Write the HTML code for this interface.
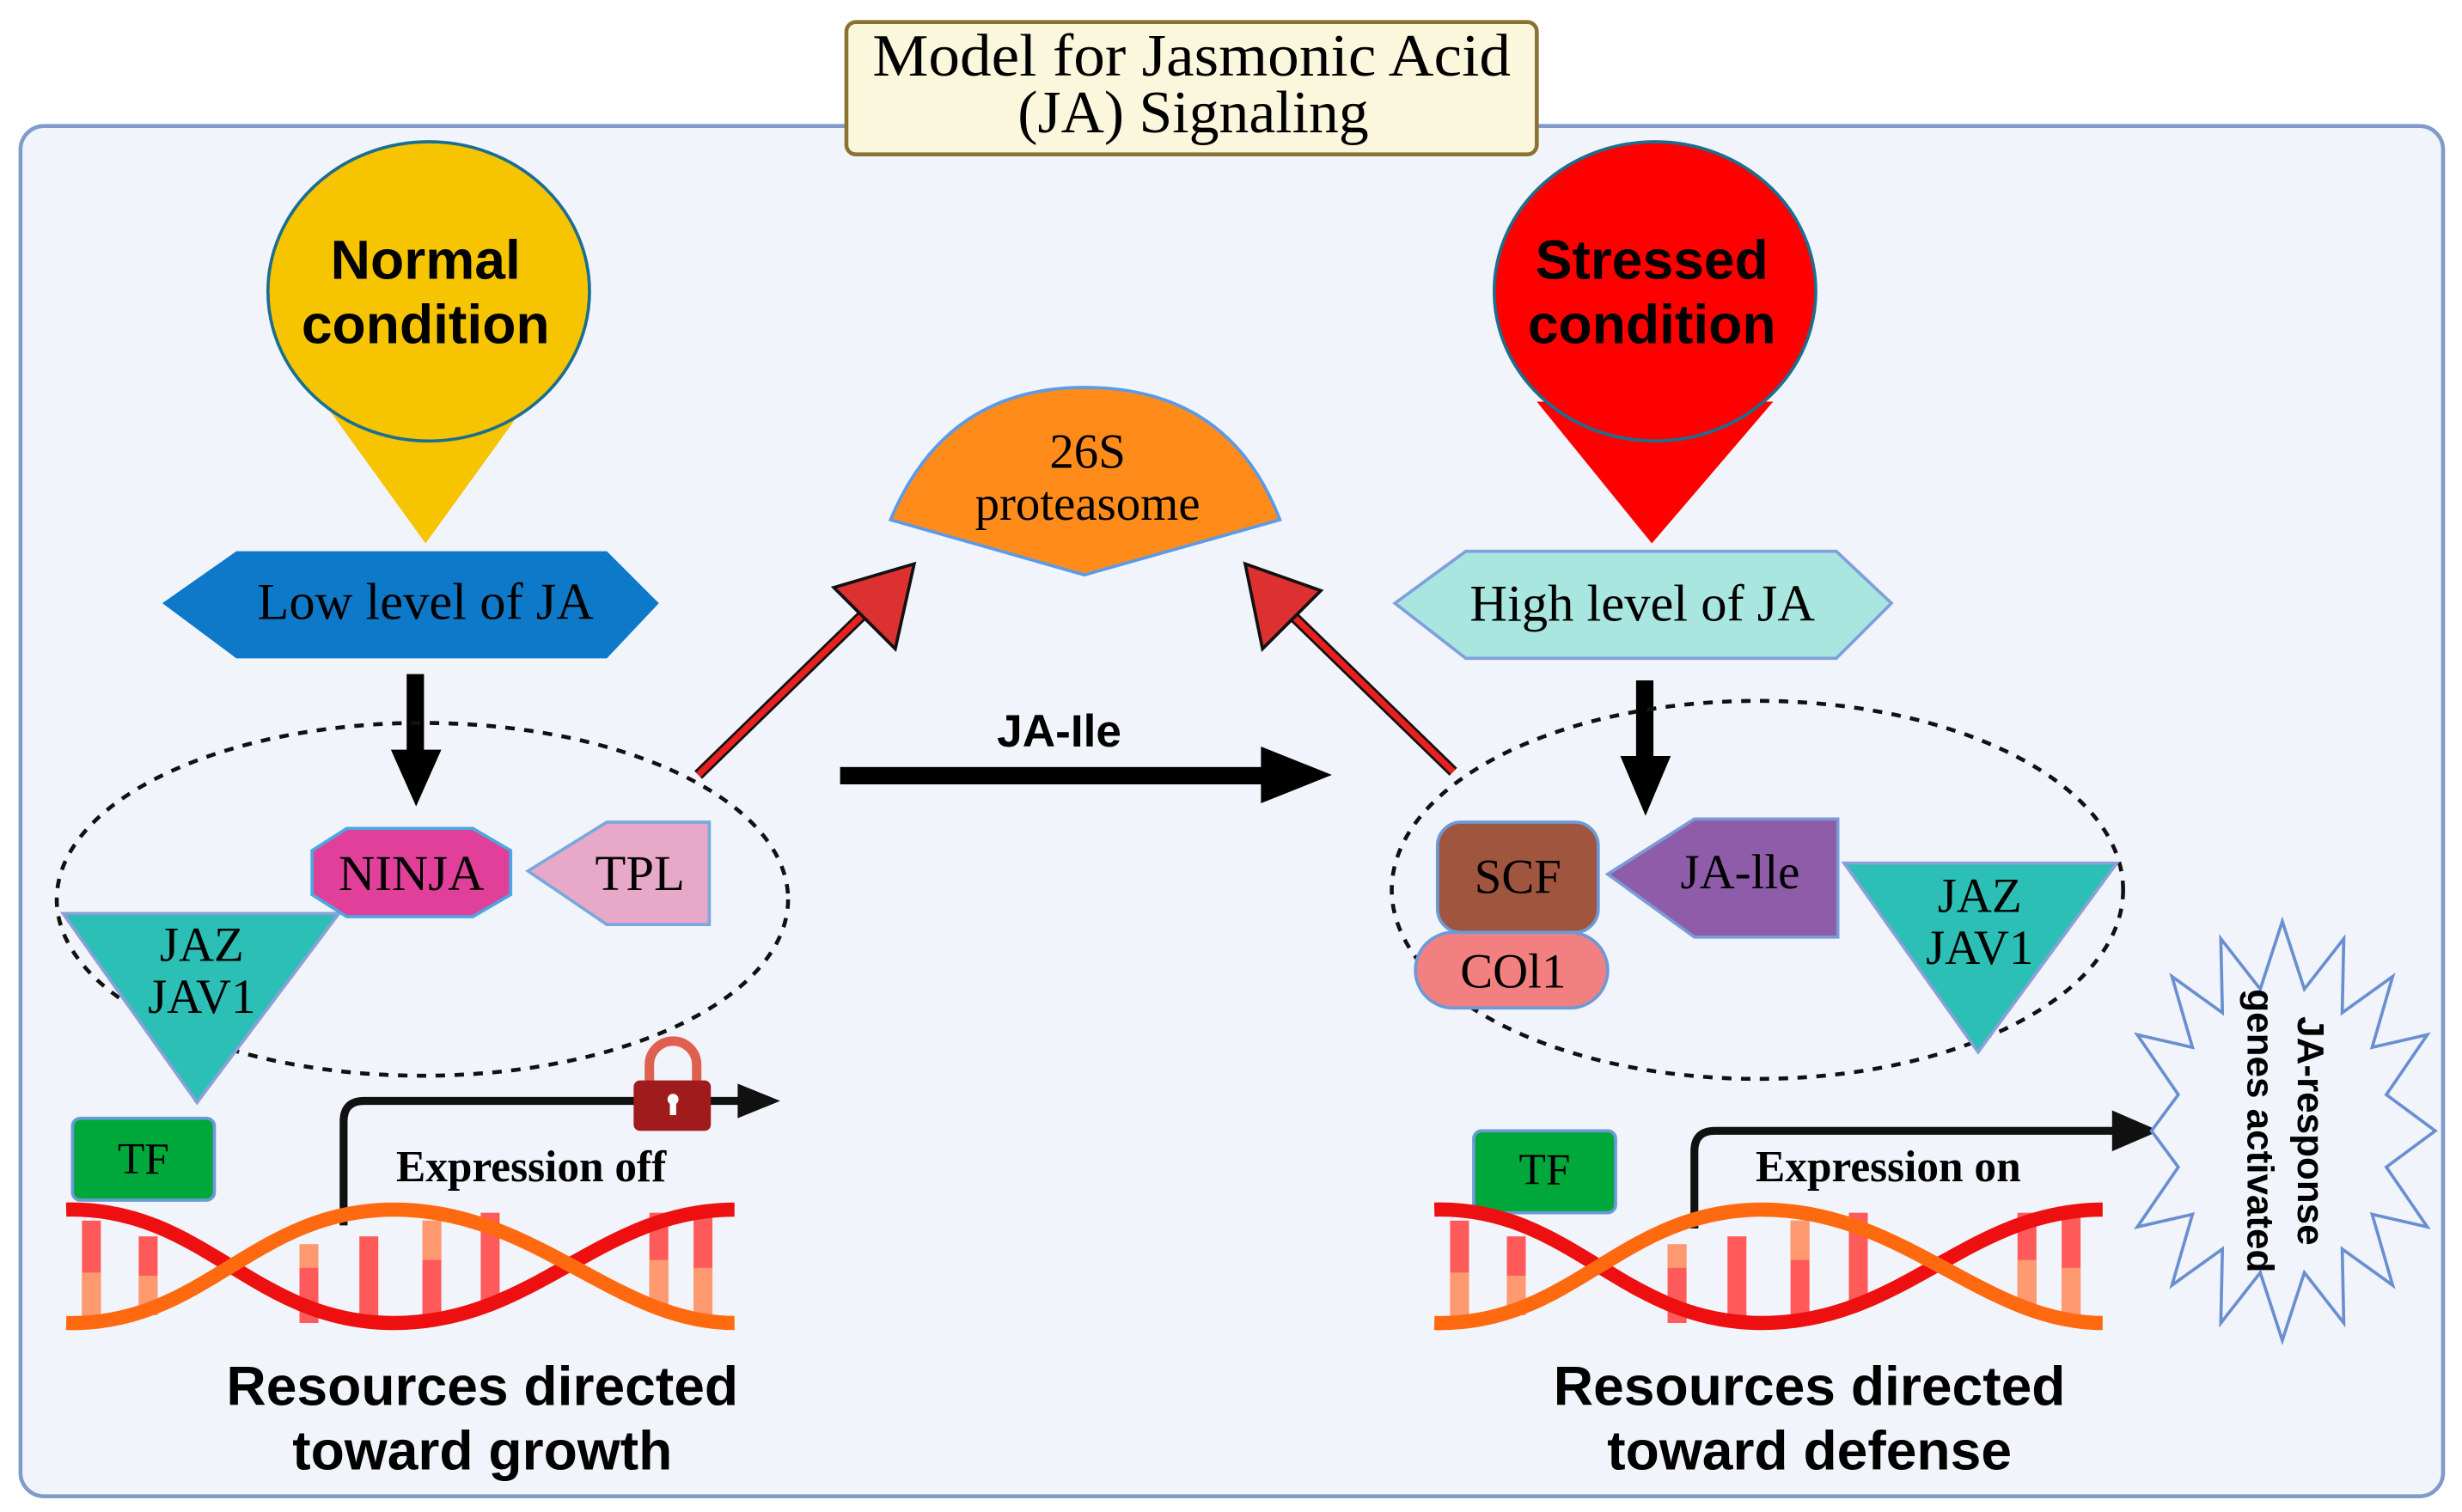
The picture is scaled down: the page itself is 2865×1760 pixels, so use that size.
<!DOCTYPE html>
<html><head><meta charset="utf-8"><style>
html,body{margin:0;padding:0;background:#fff}
svg{display:block}
.serif{font-family:"Liberation Serif","DejaVu Serif",serif}
.sans{font-family:"Liberation Sans","DejaVu Sans",sans-serif;font-weight:bold}
</style></head><body>
<svg width="2865" height="1760" viewBox="0 0 1562 960" preserveAspectRatio="none" xmlns="http://www.w3.org/2000/svg">
<defs>
<g id="dna">
  <g fill="#ff5a5a">
    <rect x="52" y="775" width="12" height="62"/><rect x="88" y="785" width="12" height="50"/>
    <rect x="190" y="790" width="12" height="50"/><rect x="228" y="785" width="12" height="55"/>
    <rect x="268" y="775" width="12" height="60"/><rect x="305" y="770" width="12" height="60"/>
    <rect x="412" y="770" width="12" height="60"/><rect x="440" y="770" width="12" height="65"/>
  </g>
  <g fill="#ff9a70">
    <rect x="52" y="808" width="12" height="30"/><rect x="88" y="810" width="12" height="25"/>
    <rect x="190" y="790" width="12" height="15"/><rect x="268" y="775" width="12" height="25"/>
    <rect x="412" y="800" width="12" height="30"/><rect x="440" y="805" width="12" height="30"/>
  </g>
  <path d="M42,768 C130,766 160,840 250,840 S380,768 466,768" fill="none" stroke="#ee1010" stroke-width="9"/>
  <path d="M42,840 C130,842 160,768 250,768 S390,840 466,840" fill="none" stroke="#ff6a10" stroke-width="9"/>
</g>
</defs>
<rect x="13" y="80" width="1537" height="870" rx="15" fill="#f1f4fa" stroke="#7f9cc8" stroke-width="2.5"/>
<rect x="537" y="14" width="438" height="84" rx="6" fill="#fbf7dc" stroke="#8a7230" stroke-width="2.5"/>
<text class="serif" x="756" y="48" font-size="38" text-anchor="middle" textLength="405" lengthAdjust="spacingAndGlyphs">Model for Jasmonic Acid</text>
<text class="serif" x="757" y="84" font-size="38" text-anchor="middle">(JA) Signaling</text>

<!-- pins -->
<path d="M205,255 L335,255 L270,345 Z" fill="#f6c400"/>
<ellipse cx="272" cy="185" rx="102" ry="95" fill="#f6c400" stroke="#1a6f90" stroke-width="2"/>
<text class="sans" x="270" y="177" font-size="35" text-anchor="middle">Normal</text>
<text class="sans" x="270" y="218" font-size="35" text-anchor="middle">condition</text>
<path d="M975,255 L1125,255 L1048,345 Z" fill="#ff0000"/>
<ellipse cx="1050" cy="185" rx="102" ry="95" fill="#ff0000" stroke="#1a6f90" stroke-width="2"/>
<text class="sans" x="1048" y="177" font-size="35" text-anchor="middle">Stressed</text>
<text class="sans" x="1048" y="218" font-size="35" text-anchor="middle">condition</text>

<!-- hexagons -->
<polygon points="103,383 150,350 385,350 418,383 385,418 150,418" fill="#0f79c9"/>
<text class="serif" x="270" y="393" font-size="33" text-anchor="middle">Low level of JA</text>
<polygon points="885,383 930,350 1165,350 1200,383 1165,418 930,418" fill="#a8e6df" stroke="#7f9fdd" stroke-width="2"/>
<text class="serif" x="1042" y="394" font-size="33" text-anchor="middle">High level of JA</text>

<!-- proteasome -->
<path d="M565,330 Q600,246 688,246 Q780,246 812,330 L688,365 Z" fill="#ff8c1a" stroke="#5a9ae8" stroke-width="2"/>
<text class="serif" x="690" y="297" font-size="31" text-anchor="middle">26S</text>
<text class="serif" x="690" y="330" font-size="31" text-anchor="middle">proteasome</text>

<!-- black down arrows -->
<rect x="258" y="428" width="11" height="50" fill="#000"/>
<polygon points="248,476 280,476 264,512" fill="#000"/>
<rect x="1038" y="432" width="11" height="50" fill="#000"/>
<polygon points="1028,480 1060,480 1044,518" fill="#000"/>

<!-- ellipses -->
<ellipse cx="268" cy="571" rx="232" ry="112" fill="none" stroke="#111" stroke-width="2.5" stroke-dasharray="6,6"/>
<ellipse cx="1115" cy="565" rx="232" ry="120" fill="none" stroke="#111" stroke-width="2.5" stroke-dasharray="6,6"/>

<!-- left complex -->
<polygon points="40,580 215,580 125,700" fill="#2bbfb6" stroke="#8aa0d8" stroke-width="2"/>
<text class="serif" x="128" y="610" font-size="31" text-anchor="middle">JAZ</text>
<text class="serif" x="128" y="643" font-size="31" text-anchor="middle">JAV1</text>
<polygon points="198,540 220,526 300,526 324,540 324,568 300,582 220,582 198,568" fill="#e0409a" stroke="#4aa8e0" stroke-width="2"/>
<text class="serif" x="261" y="565" font-size="32" text-anchor="middle">NINJA</text>
<polygon points="335,553 385,522 450,522 450,587 385,587" fill="#e8a8c8" stroke="#7aa8dd" stroke-width="2"/>
<text class="serif" x="406" y="565" font-size="32" text-anchor="middle">TPL</text>
<rect x="46" y="710" width="90" height="52" rx="5" fill="#00a83c" stroke="#6a9ad8" stroke-width="2"/>
<text class="serif" x="91" y="745" font-size="28" text-anchor="middle">TF</text>

<!-- left expression -->
<path d="M218,778 V712 Q218,699 231,699 H472" fill="none" stroke="#111" stroke-width="5"/>
<polygon points="468,688 495,699 468,710" fill="#111"/>
<path d="M412,688 V676 A15,15 0 0 1 442,676 V688" fill="none" stroke="#e06050" stroke-width="6"/>
<rect x="402" y="686" width="49" height="32" rx="4" fill="#a01c1c"/>
<circle cx="427" cy="698" r="3.5" fill="#fff"/><rect x="425" y="700" width="4" height="8" fill="#fff"/>
<text class="serif" x="337" y="750" font-size="28" text-anchor="middle" font-weight="bold">Expression off</text>
<use href="#dna"/>
<text class="sans" x="306" y="892" font-size="35" text-anchor="middle">Resources directed</text>
<text class="sans" x="306" y="933" font-size="35" text-anchor="middle">toward growth</text>

<!-- middle arrows -->
<line x1="443" y1="492" x2="555" y2="383" stroke="#111" stroke-width="7"/>
<line x1="443" y1="492" x2="555" y2="383" stroke="#e82020" stroke-width="4"/>
<polygon points="580,358 568,412 529,373" fill="#dd3030" stroke="#111" stroke-width="2"/>
<line x1="922" y1="490" x2="812" y2="383" stroke="#111" stroke-width="7"/>
<line x1="922" y1="490" x2="812" y2="383" stroke="#e82020" stroke-width="4"/>
<polygon points="790,358 838,375 801,412" fill="#dd3030" stroke="#111" stroke-width="2"/>
<rect x="533" y="487" width="270" height="11" fill="#000"/>
<polygon points="800,474 845,492 800,510" fill="#000"/>
<text class="sans" x="672" y="474" font-size="29" text-anchor="middle">JA-Ile</text>

<!-- right complex -->
<rect x="912" y="522" width="102" height="70" rx="15" fill="#a0553e" stroke="#6a9ad8" stroke-width="2"/>
<text class="serif" x="963" y="567" font-size="31" text-anchor="middle">SCF</text>
<rect x="898" y="592" width="122" height="48" rx="24" fill="#f28080" stroke="#6a9ad8" stroke-width="2"/>
<text class="serif" x="960" y="627" font-size="31" text-anchor="middle">COl1</text>
<polygon points="1020,555 1075,520 1166,520 1166,595 1075,595" fill="#8e5ca8" stroke="#7a9ad8" stroke-width="2"/>
<text class="serif" x="1104" y="564" font-size="31" text-anchor="middle">JA-lle</text>
<polygon points="1170,548 1343,548 1255,668" fill="#2bbfb6" stroke="#8aa0d8" stroke-width="2"/>
<text class="serif" x="1256" y="579" font-size="31" text-anchor="middle">JAZ</text>
<text class="serif" x="1256" y="612" font-size="31" text-anchor="middle">JAV1</text>
<rect x="935" y="718" width="90" height="52" rx="5" fill="#00a83c" stroke="#6a9ad8" stroke-width="2"/>
<text class="serif" x="980" y="752" font-size="28" text-anchor="middle">TF</text>

<path d="M1075,780 V731 Q1075,718 1088,718 H1345" fill="none" stroke="#111" stroke-width="5"/>
<polygon points="1340,705 1370,718 1340,731" fill="#111"/>
<text class="serif" x="1198" y="750" font-size="28" text-anchor="middle" font-weight="bold">Expression on</text>
<use href="#dna" transform="translate(868,0)"/>
<text class="sans" x="1148" y="892" font-size="35" text-anchor="middle">Resources directed</text>
<text class="sans" x="1148" y="933" font-size="35" text-anchor="middle">toward defense</text>

<!-- starburst -->
<polygon fill="#f1f4fa" stroke="#6a8fd0" stroke-width="2" points="1448,585 1462,628 1487,596 1486,643 1518,620 1505,665 1540,657 1514,695 1545,718 1514,741 1540,779 1505,771 1518,816 1486,793 1487,840 1462,808 1448,851 1434,808 1409,840 1410,793 1378,816 1391,771 1356,779 1382,741 1365,718 1382,695 1356,657 1391,665 1378,620 1410,643 1409,596 1434,628"/>
<text class="sans" transform="translate(1458,718) rotate(90)" font-size="24" text-anchor="middle">JA-response</text>
<text class="sans" transform="translate(1426,718) rotate(90)" font-size="24" text-anchor="middle">genes activated</text>
</svg>
</body></html>
